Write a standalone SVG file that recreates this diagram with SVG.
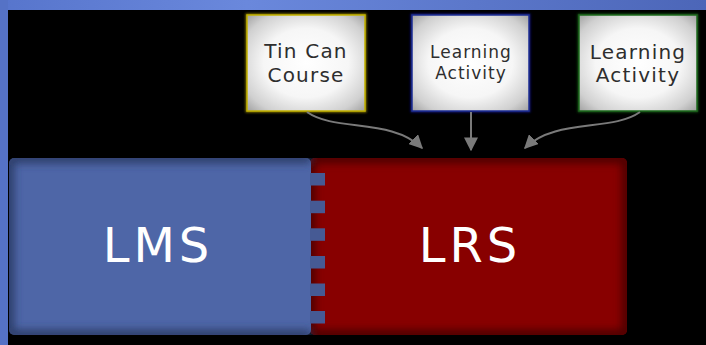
<svg xmlns="http://www.w3.org/2000/svg" width="706" height="345" viewBox="0 0 706 345">
<style>
.lbl{font-family:"DejaVu Sans","Liberation Sans",sans-serif;fill:#2e2e2e;text-anchor:middle}
.big{font-family:"DejaVu Sans","Liberation Sans",sans-serif;fill:#ffffff;text-anchor:middle;font-size:48px;letter-spacing:4px}
.conn{fill:none;stroke:#7a7a7a;stroke-width:2}
</style>
<defs>
<linearGradient id="topband" x1="0" y1="0" x2="1" y2="0">
<stop offset="0" stop-color="#5775cc"/><stop offset="0.35" stop-color="#6a88dc"/><stop offset="1" stop-color="#4c66b8"/>
</linearGradient>
<radialGradient id="boxfill" cx="0.5" cy="0.5" r="0.72">
<stop offset="0" stop-color="#ffffff"/><stop offset="0.5" stop-color="#f6f6f6"/><stop offset="0.8" stop-color="#d0d0d0"/><stop offset="1" stop-color="#9c9c9c"/>
</radialGradient>
<filter id="blur" x="-10%" y="-10%" width="120%" height="120%"><feGaussianBlur stdDeviation="4"/></filter>
<filter id="glow" x="-20%" y="-20%" width="140%" height="140%"><feGaussianBlur stdDeviation="1.2"/></filter>
<clipPath id="clipLms"><rect x="9" y="158" width="320" height="177" rx="5"/></clipPath>
<clipPath id="clipLrs"><rect x="310" y="158" width="317" height="177" rx="5"/></clipPath>
<marker id="ah" viewBox="0 0 10 10" refX="9" refY="5" markerWidth="7" markerHeight="7" orient="auto" markerUnits="strokeWidth">
<path d="M0,0 L10,5 L0,10 z" fill="#7a7a7a"/>
</marker>
</defs>
<rect x="0" y="0" width="706" height="345" fill="#000"/>
<rect x="0" y="0" width="706" height="10" fill="url(#topband)"/>
<rect x="0" y="0" width="8" height="345" fill="#5572c6"/>

<g id="node-lrs">
<rect x="310" y="158" width="317" height="177" rx="5" fill="#880000"/>
<g clip-path="url(#clipLrs)">
<rect x="310" y="158" width="317" height="177" rx="5" fill="none" stroke="#4a0000" stroke-width="10" filter="url(#blur)"/>
</g>
<text class="big" x="470" y="262">LRS</text>
</g>

<g id="node-lms">
<g clip-path="url(#clipLms)">
<rect x="9" y="158" width="302" height="177" rx="5" fill="#4e66a7"/>
<rect x="310" y="173" width="15" height="12.5" fill="#465a94"/>
<rect x="310" y="200.7" width="15" height="12.5" fill="#465a94"/>
<rect x="310" y="228.3" width="15" height="12.5" fill="#465a94"/>
<rect x="310" y="256" width="15" height="12.5" fill="#465a94"/>
<rect x="310" y="283.5" width="15" height="12.5" fill="#465a94"/>
<rect x="310" y="311" width="15" height="12.5" fill="#465a94"/>
<path d="M9,158 H311 M9,335 H311 M9,158 V335" fill="none" stroke="#2c3a66" stroke-width="10" filter="url(#blur)"/>
</g>
<text class="big" x="158" y="262">LMS</text>
</g>

<g id="node-tincan">
<rect x="247" y="15" width="118" height="96" fill="none" stroke="#8a7a00" stroke-width="3" filter="url(#glow)"/>
<rect x="247" y="15" width="118" height="96" fill="url(#boxfill)" stroke="#c2b200" stroke-width="1.5"/>
<text class="lbl" x="306" y="58" font-size="20" letter-spacing="1.2">Tin Can</text>
<text class="lbl" x="306" y="82" font-size="20" letter-spacing="1.2">Course</text>
</g>

<g id="node-activity1">
<rect x="412" y="15" width="117" height="96" fill="none" stroke="#101a70" stroke-width="3" filter="url(#glow)"/>
<rect x="412" y="15" width="117" height="96" fill="url(#boxfill)" stroke="#1c2c94" stroke-width="1.5"/>
<text class="lbl" x="471" y="58" font-size="17" letter-spacing="1">Learning</text>
<text class="lbl" x="471" y="79" font-size="17" letter-spacing="1">Activity</text>
</g>

<g id="node-activity2">
<rect x="579" y="15" width="118" height="96" fill="none" stroke="#0e4a0e" stroke-width="3" filter="url(#glow)"/>
<rect x="579" y="15" width="118" height="96" fill="url(#boxfill)" stroke="#1d6a1d" stroke-width="1.5"/>
<text class="lbl" x="638" y="59" font-size="20" letter-spacing="1.2">Learning</text>
<text class="lbl" x="638" y="82" font-size="20" letter-spacing="1.2">Activity</text>
</g>

<g id="connectors">
<path class="conn" d="M307,112 C335,132 392,118 422,148" marker-end="url(#ah)"/>
<path class="conn" d="M471,112 L471,150" marker-end="url(#ah)"/>
<path class="conn" d="M640,112 C612,132 555,118 525,148" marker-end="url(#ah)"/>
</g>
</svg>
